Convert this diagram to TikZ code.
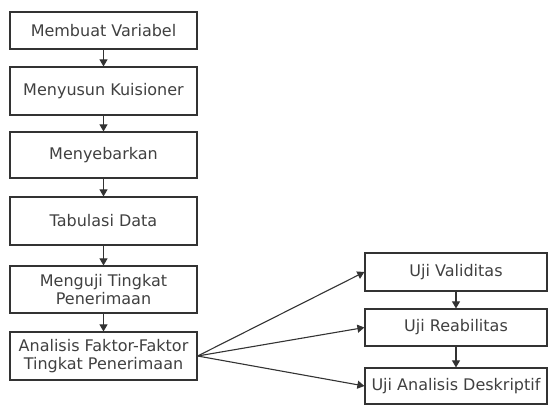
\documentclass[tikz,border=0pt]{standalone}
\usepackage{fontspec}
\setmainfont{DejaVu Sans}
\usetikzlibrary{arrows.meta}
\tikzset{
    tahap/.style={draw=black!80, line width=1.2pt, align=center, inner sep=1pt,
        font=\fontsize{16}{18}\selectfont, text=black!75},
    panah/.style={draw=black!80, line width=1.1pt, -{Triangle[width=8pt,length=7pt]}}
}
\begin{document}
\begin{tikzpicture}[x=1pt,y=-1pt]
    \useasboundingbox (0,0) rectangle (549,406);
    \node[tahap, minimum width=187pt, minimum height=37pt] (variabel) at (103.5,30.5) {Membuat Variabel};
    \node[tahap, minimum width=187pt, minimum height=48pt] (kuisioner) at (103.5,91) {Menyusun Kuisioner};
    \node[tahap, minimum width=187pt, minimum height=46pt] (sebar) at (103.5,155) {Menyebarkan};
    \node[tahap, minimum width=187pt, minimum height=48pt] (tabulasi) at (103.5,221) {Tabulasi Data};
    \node[tahap, minimum width=187pt, minimum height=47pt] (uji) at (103.5,289.5) {Menguji Tingkat\\Penerimaan};
    \node[tahap, minimum width=187pt, minimum height=48pt] (analisis) at (103.5,356) {Analisis Faktor-Faktor\\Tingkat Penerimaan};
    \node[tahap, minimum width=182pt, minimum height=38pt] (validitas) at (456,272) {Uji Validitas};
    \node[tahap, minimum width=182pt, minimum height=37pt] (reabilitas) at (456,327.5) {Uji Reabilitas};
    \node[tahap, minimum width=182pt, minimum height=36pt] (deskriptif) at (456,386) {Uji Analisis Deskriptif};
    \draw[panah] (variabel) -- (kuisioner);
    \draw[panah] (kuisioner) -- (sebar);
    \draw[panah] (sebar) -- (tabulasi);
    \draw[panah] (tabulasi) -- (uji);
    \draw[panah] (uji) -- (analisis);
    \draw[panah] (analisis.east) -- (validitas.west);
    \draw[panah] (analisis.east) -- (reabilitas.west);
    \draw[panah] (analisis.east) -- (deskriptif.west);
    \draw[panah] (validitas) -- (reabilitas);
    \draw[panah] (reabilitas) -- (deskriptif);
\end{tikzpicture}
\end{document}
